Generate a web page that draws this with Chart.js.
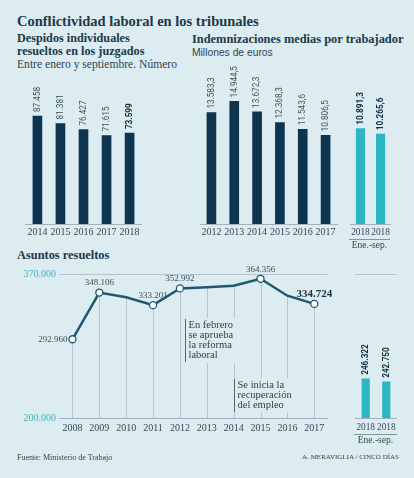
<!DOCTYPE html>
<html lang="es">
<head>
<meta charset="utf-8">
<title>Conflictividad laboral en los tribunales</title>
<script src="https://cdn.jsdelivr.net/npm/chart.js@4.4.1/dist/chart.umd.min.js"></script>
<style>
  body { margin: 0; width: 414px; height: 478px; overflow: hidden; position: relative;
         background: #dcecf1; font-family: "Liberation Serif", serif; color: #20394a; }
  .txt { position: absolute; white-space: nowrap; }
  .box { position: absolute; }
  .sep { position: absolute; border-top: 1px solid #7f949c; text-align: center;
         font-size: 9.5px; line-height: 11px; color: #2e4553; }
</style>
</head>
<body>

<div class="txt" style="left:17px;top:12px;font-size:14.5px;font-weight:bold;line-height:18px;color:#213849">Conflictividad laboral en los tribunales</div>
<div class="txt" style="left:17px;top:32px;font-size:12.2px;font-weight:bold;line-height:13px">Despidos individuales<br>resueltos en los juzgados</div>
<div class="txt" style="left:17px;top:58px;font-size:11.6px;line-height:14px;color:#2e4553">Entre enero y septiembre. Número</div>
<div class="txt" style="left:192px;top:32px;font-size:12.4px;font-weight:bold;line-height:14px">Indemnizaciones medias por trabajador</div>
<div class="txt" style="left:192px;top:46px;font-size:10.3px;line-height:13px;font-family:'Liberation Sans',sans-serif;color:#2e4553">Millones de euros</div>
<div class="txt" style="left:17px;top:247px;font-size:12.4px;font-weight:bold;line-height:16px">Asuntos resueltos</div>

<div class="box" style="left:25px;top:50px;width:117px;height:192px"><canvas id="despidosChart"></canvas></div>
<div class="box" style="left:199px;top:50px;width:139px;height:192px"><canvas id="indemChart"></canvas></div>
<div class="box" style="left:349px;top:50px;width:43px;height:192px"><canvas id="indem2018Chart"></canvas></div>
<div class="sep" style="left:349px;top:239px;width:41px">Ene.-sep.</div>

<div class="box" style="left:23px;top:254px;width:310px;height:182px"><canvas id="asuntosChart"></canvas></div>
<div class="box" style="left:353px;top:254px;width:46px;height:182px"><canvas id="asuntos2018Chart"></canvas></div>
<div class="sep" style="left:354px;top:434px;width:43px">Ene.-sep.</div>

<div class="txt" style="left:17px;top:452px;font-size:8px;line-height:11px;color:#2e4553">Fuente: Ministerio de Trabajo</div>
<div class="txt" style="right:15px;top:452px;font-size:7px;line-height:11px;color:#2e4553">A. MERAVIGLIA / CINCO DÍAS</div>

<script>
// datos
const despidosYears = ['2014', '2015', '2016', '2017', '2018'];
const despidos = [87458, 81381, 76427, 71615, 73599];

const indemYears = ['2012', '2013', '2014', '2015', '2016', '2017'];
const indem = [13583.3, 14944.5, 13672.3, 12368.3, 11543.6, 10806.5];

const indem2018Years = ['2018', '2018'];
const indem2018 = [10891.3, 10265.6];

const asuntosYears = ['2008', '2009', '2010', '2011', '2012', '2013', '2014', '2015', '2016', '2017'];
const asuntos = [292960, 348106, 342500, 333201, 352992, 354300, 356200, 364356, 344400, 334724];
const asuntosLabeled = ['2008', '2009', '2011', '2012', '2015', '2017'];

const asuntos2018Years = ['2018', '2018'];
const asuntos2018 = [246322, 242750];

const asuntosTicks = [200000, 370000];

const notes = [
  { year: '2012', lines: ['En febrero', 'se aprueba', 'la reforma', 'laboral'] },
  { year: '2014', lines: ['Se inicia la', 'recuperación', 'del empleo'] }
];

const NAVY = '#0e3550';
const TEAL = '#2bb6c2';
const LINE = '#1f5870';
const BG = '#dcecf1';

Chart.defaults.font.family = 'Liberation Serif';
Chart.defaults.animation = false;
Chart.defaults.plugins.legend.display = false;
Chart.defaults.plugins.tooltip.enabled = false;

// 87458 -> "87.458", 13583.3 -> "13.583,3"
function fmt(v, dec) {
  const parts = v.toFixed(dec).split('.');
  const ent = parts[0].replace(/\B(?=(\d{3})+(?!\d))/g, '.');
  return parts[1] ? ent + ',' + parts[1] : ent;
}

function barValueLabels(dec, isBold) {
  return {
    id: 'valueLabels',
    afterDatasetsDraw(chart) {
      const ctx = chart.ctx;
      const data = chart.data.datasets[0].data;
      chart.getDatasetMeta(0).data.forEach((bar, i) => {
        const bold = isBold(i);
        ctx.save();
        ctx.translate(bar.x, bar.y - 4);
        ctx.rotate(-Math.PI / 2);
        ctx.scale(0.86, 1);
        ctx.font = (bold ? 'bold ' : '') + '9.5px Roboto';
        ctx.fillStyle = bold ? '#0f2b3e' : '#3d5360';
        ctx.textAlign = 'left';
        ctx.textBaseline = 'middle';
        ctx.fillText(fmt(data[i], dec), 0, 0);
        ctx.restore();
      });
    }
  };
}

function xAxis(padding, size) {
  return {
    grid: { display: false, drawTicks: false },
    border: { display: true, color: '#a3b3b9', width: 1 },
    ticks: { autoSkip: false, maxRotation: 0, padding: padding, color: '#34495a', font: { size: size } },
    afterFit: s => { s.height = 18; }
  };
}

function barChart(id, labels, values, color, thickness, max, dec, isBold, tickSize) {
  new Chart(document.getElementById(id), {
    type: 'bar',
    data: { labels: labels, datasets: [{ data: values, backgroundColor: color, barThickness: thickness }] },
    options: {
      responsive: true,
      maintainAspectRatio: false,
      layout: { padding: { top: 30 } },
      scales: {
        x: xAxis(2.5, tickSize),
        y: { display: false, min: 0, max: max }
      }
    },
    plugins: [barValueLabels(dec, isBold)]
  });
}

barChart('despidosChart', despidosYears, despidos, NAVY, 9, 116600, 0, i => i === despidos.length - 1, 10);
barChart('indemChart', indemYears, indem, NAVY, 9, 17560, 1, () => false, 10);
barChart('indem2018Chart', indem2018Years, indem2018, TEAL, 8.5, 16450, 1, () => true, 9.3);

// Asuntos resueltos: line
const lineExtras = {
  id: 'lineExtras',
  beforeDatasetsDraw(chart) {
    const { ctx, chartArea } = chart;
    ctx.save();
    ctx.strokeStyle = '#b7c6cc';
    ctx.lineWidth = 1;
    chart.getDatasetMeta(0).data.forEach(p => {
      const x = Math.round(p.x) + 0.5;
      ctx.beginPath();
      ctx.moveTo(x, p.y);
      ctx.lineTo(x, chartArea.bottom);
      ctx.stroke();
    });
    ctx.restore();
  },
  afterDatasetsDraw(chart, args, opts) {
    const { ctx, chartArea } = chart;
    const xs = chart.scales.x;
    const pts = chart.getDatasetMeta(0).data;

    // notas
    notes.forEach((n, k) => {
      const pos = opts.notePos[k];
      const mx = Math.round(xs.getPixelForValue(asuntosYears.indexOf(n.year)) + pos.dx) + 0.5;
      const top = chartArea.top + pos.top;
      const h = n.lines.length * 10 + 3;
      ctx.save();
      ctx.font = '10.5px "Liberation Serif"';
      const w = Math.max(...n.lines.map(l => ctx.measureText(l).width));
      ctx.fillStyle = BG;
      ctx.fillRect(mx + 1, top - 1, w + 5, h + 2);
      ctx.strokeStyle = '#53656f';
      ctx.lineWidth = 1;
      ctx.beginPath();
      ctx.moveTo(mx, top);
      ctx.lineTo(mx, top + h);
      ctx.stroke();
      ctx.fillStyle = '#2c4050';
      ctx.textBaseline = 'middle';
      n.lines.forEach((l, j) => ctx.fillText(l, mx + 3, top + 6 + j * 10));
      ctx.restore();
    });

    // valores
    asuntosLabeled.forEach((yr, k) => {
      const i = asuntosYears.indexOf(yr);
      const p = pts[i];
      const txt = fmt(asuntos[i], 0);
      ctx.save();
      if (k === 0) {
        ctx.font = '9px "Liberation Serif"';
        ctx.fillStyle = '#3c4e59';
        ctx.textAlign = 'right';
        ctx.textBaseline = 'middle';
        ctx.fillText(txt, p.x - 5, p.y);
      } else if (k === asuntosLabeled.length - 1) {
        ctx.font = 'bold 11px "Liberation Serif"';
        ctx.fillStyle = '#1b3243';
        ctx.textAlign = 'center';
        ctx.textBaseline = 'bottom';
        ctx.fillText(txt, p.x, p.y - 4);
      } else {
        ctx.font = '9px "Liberation Serif"';
        ctx.fillStyle = '#3c4e59';
        ctx.textAlign = 'center';
        ctx.textBaseline = 'bottom';
        ctx.fillText(txt, p.x, p.y - 5);
      }
      ctx.restore();
    });
  }
};

function asuntosY(showTicks) {
  return {
    min: asuntosTicks[0],
    max: asuntosTicks[asuntosTicks.length - 1],
    afterBuildTicks: s => { s.ticks = asuntosTicks.map(v => ({ value: v })); },
    grid: {
      drawTicks: false,
      color: c => (c.tick && c.tick.value === asuntosTicks[1]) ? '#b3c3c9' : 'rgba(0,0,0,0)'
    },
    border: { display: false },
    ticks: {
      display: showTicks,
      padding: 3,
      color: '#45b3c2',
      font: { size: 10 },
      callback: v => fmt(v, 0)
    },
    afterFit: s => { s.width = showTicks ? 36 : 0; }
  };
}

new Chart(document.getElementById('asuntosChart'), {
  type: 'line',
  data: {
    labels: asuntosYears,
    datasets: [{
      data: asuntos,
      borderColor: LINE,
      borderWidth: 2.5,
      tension: 0,
      pointRadius: c => asuntosLabeled.includes(asuntosYears[c.dataIndex]) ? 3.5 : 0,
      pointBackgroundColor: '#ffffff',
      pointBorderColor: LINE,
      pointBorderWidth: 1.3
    }]
  },
  options: {
    responsive: true,
    maintainAspectRatio: false,
    layout: { padding: { top: 20 } },
    scales: {
      x: Object.assign(xAxis(4, 10), { offset: true }),
      y: asuntosY(true)
    },
    plugins: {
      lineExtras: {
        notePos: [{ dx: 5, top: 45 }, { dx: 0, top: 105 }]
      }
    }
  },
  plugins: [lineExtras]
});

new Chart(document.getElementById('asuntos2018Chart'), {
  type: 'bar',
  data: { labels: asuntos2018Years, datasets: [{ data: asuntos2018, backgroundColor: TEAL, barThickness: 7.5 }] },
  options: {
    responsive: true,
    maintainAspectRatio: false,
    layout: { padding: { top: 20 } },
    scales: {
      x: xAxis(4, 9.3),
      y: asuntosY(false)
    }
  },
  plugins: [barValueLabels(0, () => true)]
});
</script>
</body>
</html>
